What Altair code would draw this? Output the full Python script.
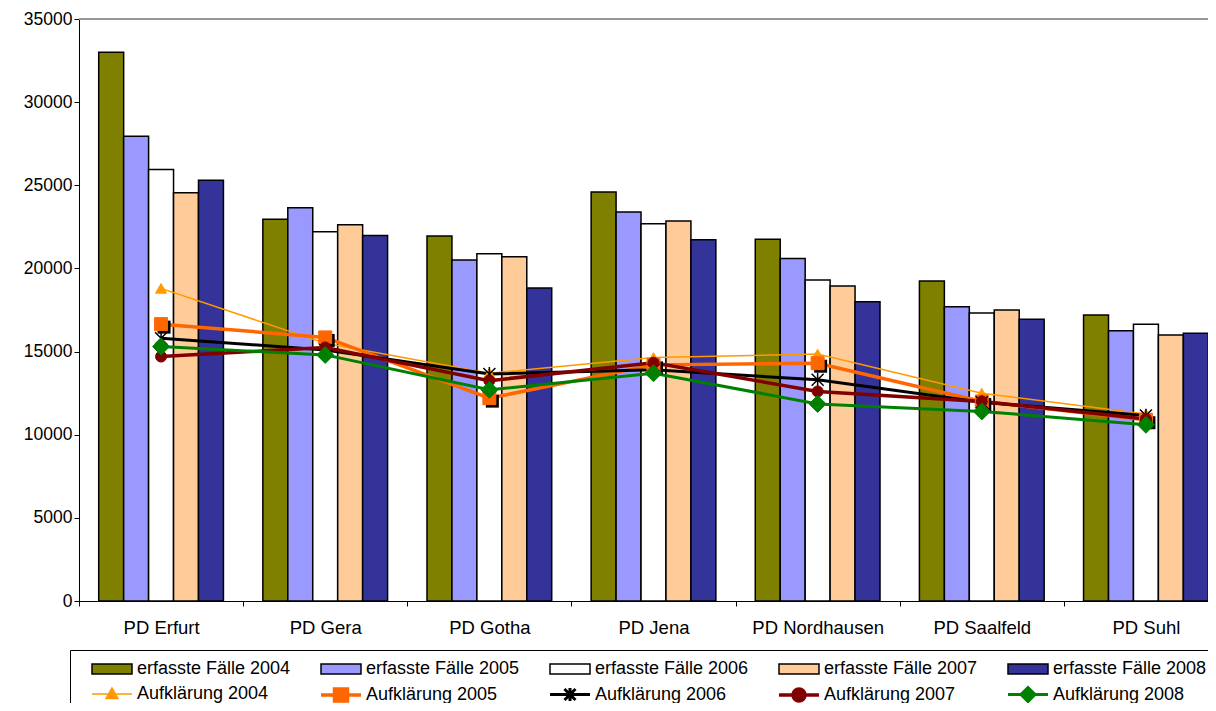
import altair as alt
import pandas as pd

# ---------------- data ----------------
regions = ["PD Erfurt", "PD Gera", "PD Gotha", "PD Jena", "PD Nordhausen", "PD Saalfeld", "PD Suhl"]
years = ["2004", "2005", "2006", "2007", "2008"]

faelle_2004 = [33000, 22950, 21950, 24600, 21750, 19250, 17200]
faelle_2005 = [27950, 23650, 20500, 23400, 20600, 17700, 16250]
faelle_2006 = [25950, 22200, 20880, 22680, 19300, 17320, 16650]
faelle_2007 = [24550, 22620, 20700, 22850, 18950, 17500, 16000]
faelle_2008 = [25300, 21980, 18820, 21720, 18000, 16950, 16100]

aufkl_2004 = [18800, 15500, 13700, 14650, 14850, 12500, 11250]
aufkl_2005 = [16650, 15850, 12200, 14200, 14300, 12000, 10900]
aufkl_2006 = [15800, 15100, 13650, 13900, 13300, 11950, 11150]
aufkl_2007 = [14700, 15250, 13250, 14330, 12600, 12000, 10950]
aufkl_2008 = [15300, 14800, 12700, 13700, 11850, 11400, 10600]

y_ticks = [0, 5000, 10000, 15000, 20000, 25000, 30000, 35000]

bar_series = ["erfasste Fälle " + y for y in years]
line_series = ["Aufklärung " + y for y in years]
all_series = bar_series + line_series

bar_colors = ["#808000", "#9999FF", "#FFFFFF", "#FFCC99", "#333399"]
line_colors = ["#FF9900", "#FF6600", "#000000", "#800000", "#008000"]
line_widths = [1.5, 3.5, 3, 3.5, 3]

faelle = [faelle_2004, faelle_2005, faelle_2006, faelle_2007, faelle_2008]
aufkl = [aufkl_2004, aufkl_2005, aufkl_2006, aufkl_2007, aufkl_2008]

bar_df = pd.DataFrame([
    {"region": r, "series": s, "value": v}
    for s, vals in zip(bar_series, faelle) for r, v in zip(regions, vals)
])
line_df = pd.DataFrame([
    {"region": r, "series": s, "value": v}
    for s, vals in zip(line_series, aufkl) for r, v in zip(regions, vals)
])

# ---------------- styles ----------------
FONT = "Liberation Sans, Arial"
asterisk = "M-1,-1L1,1M-1,1L1,-1M0,-1.15V1.15"
markers = ["triangle-up", "square", asterisk, "circle", "diamond"]
marker_sizes = [121, 169, 144, 121, 289]

rect_path = "M0.2,-0.5H4.2V0.5H0.2Z"
line_path = "M0.2,0H4.2"
legend_marker_paths = [
    "M2.2,-0.6L2.8,0.45L1.6,0.45Z",
    "M1.55,-0.6H2.85V0.6H1.55Z",
    "M1.65,-0.55L2.75,0.55M1.65,0.55L2.75,-0.55M2.2,-0.65V0.65",
    "M1.6,0A0.6,0.6,0,1,0,2.8,0A0.6,0.6,0,1,0,1.6,0Z",
    "M2.2,-0.7L2.9,0L2.2,0.7L1.5,0Z",
]
legend_paths = [rect_path] * 5 + [line_path + p for p in legend_marker_paths]

fill_scale = alt.Scale(type="ordinal", domain=all_series, range=bar_colors + line_colors)
stroke_scale = alt.Scale(type="ordinal", domain=all_series, range=["#000000"] * 5 + line_colors)
sw_scale = alt.Scale(type="ordinal", domain=all_series, range=[1.5] * 5 + line_widths)
shape_scale = alt.Scale(type="ordinal", domain=all_series, range=legend_paths)

x_enc = alt.X(
    "region:N", sort=regions,
    scale=alt.Scale(domain=regions, range=[0, 1149], paddingInner=0, paddingOuter=0),
    axis=alt.Axis(title=None, labelAngle=0, tickBand="extent", tickSize=5, labelPadding=12,
                  labelFont=FONT, labelFontSize=18.5, labelColor="black",
                  domainColor="black", tickColor="black", domainWidth=1),
)
y_enc = alt.Y(
    "value:Q", stack=None,
    scale=alt.Scale(domain=[0, 35000], nice=False),
    axis=alt.Axis(title=None, values=y_ticks, format="d", grid=False, tickSize=5, labelPadding=2,
                  labelFont=FONT, labelFontSize=17.5, labelColor="black",
                  domainColor="black", tickColor="black"),
)

bars = alt.Chart(bar_df).mark_bar(stroke="black", strokeWidth=1.5).encode(
    x=x_enc,
    xOffset=alt.XOffset("series:N", sort=bar_series,
                        scale=alt.Scale(domain=bar_series, paddingInner=0, paddingOuter=0.79)),
    y=y_enc,
    fill=alt.Fill("series:N", scale=fill_scale, legend=None),
)

top_border = alt.Chart(bar_df).mark_rule(color="#999999", strokeWidth=1.5).encode(
    y=alt.datum(35000)
)

lines = alt.Chart(line_df).mark_line().encode(
    x=x_enc,
    y=y_enc,
    stroke=alt.Stroke("series:N", scale=stroke_scale, legend=None),
    strokeWidth=alt.StrokeWidth("series:N", scale=sw_scale, legend=None),
)

shadow = alt.Chart(line_df).transform_filter(
    alt.FieldEqualPredicate(field="series", equal=line_series[1])
).mark_point(shape="square", size=marker_sizes[1], filled=True, color="black",
             opacity=1, xOffset=3, yOffset=3).encode(x=x_enc, y=y_enc)

point_layers = []
for i, s in enumerate(line_series):
    pl = alt.Chart(line_df).transform_filter(
        alt.FieldEqualPredicate(field="series", equal=s)
    ).mark_point(shape=markers[i], size=marker_sizes[i], filled=(i != 2), opacity=1,
                 strokeWidth=1.5 if i == 2 else 1).encode(
        x=x_enc,
        y=y_enc,
        fill=alt.Fill("series:N", scale=fill_scale, legend=None),
        stroke=alt.Stroke("series:N", scale=stroke_scale, legend=None),
    )
    point_layers.append(pl)


def make_legend():
    return alt.Legend(
        title=None, orient="none", legendX=-9, legendY=631, columns=5, direction="horizontal",
        symbolSize=400, labelFont=FONT, labelFontSize=18, labelColor="black",
        labelOffset=35, columnPadding=16, rowPadding=3, padding=8,
        strokeColor="black", fillColor="white", labelLimit=400,
    )


legend_layer = alt.Chart(line_df).transform_filter("false").mark_point(opacity=1, filled=True).encode(
    fill=alt.Fill("series:N", scale=fill_scale, legend=make_legend()),
    stroke=alt.Stroke("series:N", scale=stroke_scale, legend=make_legend()),
    strokeWidth=alt.StrokeWidth("series:N", scale=sw_scale, legend=make_legend()),
    shape=alt.Shape("series:N", scale=shape_scale, legend=make_legend()),
)

chart = alt.layer(bars, top_border, lines, shadow, *point_layers, legend_layer).resolve_legend(
    fill="independent", stroke="independent", strokeWidth="independent", shape="independent"
).properties(
    width=1129, height=582,
    autosize=alt.AutoSizeParams(type="none"),
    padding={"left": 71, "top": 11, "right": 0, "bottom": 102},
    background="white",
).configure_view(stroke=None, fill="#FFFFCC")

chart.save("out.html", embed_options={"renderer": "svg", "actions": False})
